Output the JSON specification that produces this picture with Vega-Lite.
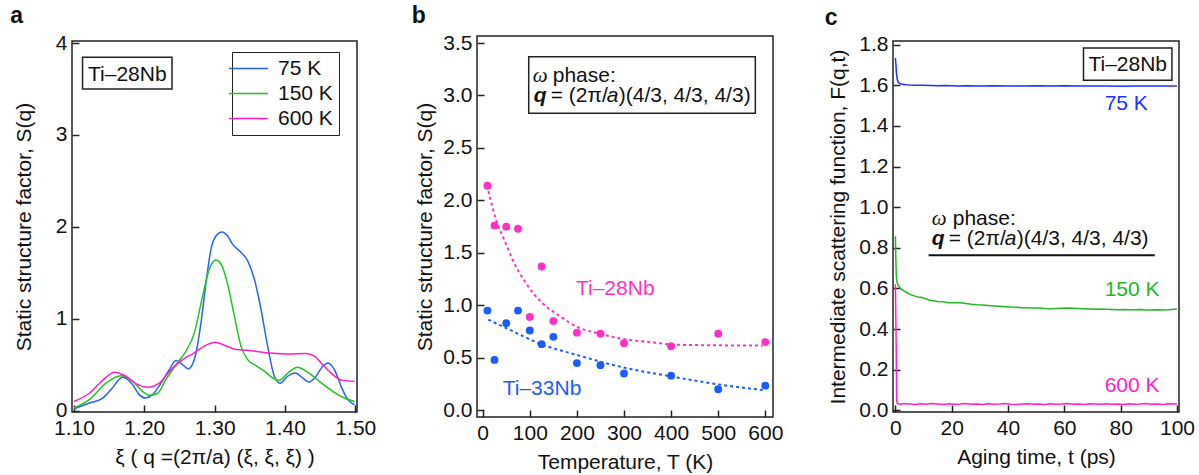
{
  "$schema": "https://vega.github.io/schema/vega-lite/v6.json",
  "background": "white",
  "padding": {"left": 9, "top": 4, "right": 2, "bottom": 5},
  "bounds": "flush",
  "center": true,
  "spacing": 120,
  "datasets": {
    "sq": [
      {"xi": 1.100, "s": 0.020, "T": "75 K"},
      {"xi": 1.1218, "s": 0.084, "T": "75 K"},
      {"xi": 1.1409, "s": 0.138, "T": "75 K"},
      {"xi": 1.1528, "s": 0.230, "T": "75 K"},
      {"xi": 1.1692, "s": 0.364, "T": "75 K"},
      {"xi": 1.1834, "s": 0.284, "T": "75 K"},
      {"xi": 1.1928, "s": 0.175, "T": "75 K"},
      {"xi": 1.2014, "s": 0.138, "T": "75 K"},
      {"xi": 1.2118, "s": 0.175, "T": "75 K"},
      {"xi": 1.2237, "s": 0.300, "T": "75 K"},
      {"xi": 1.2355, "s": 0.447, "T": "75 K"},
      {"xi": 1.2450, "s": 0.545, "T": "75 K"},
      {"xi": 1.2545, "s": 0.500, "T": "75 K"},
      {"xi": 1.2626, "s": 0.455, "T": "75 K"},
      {"xi": 1.2711, "s": 0.556, "T": "75 K"},
      {"xi": 1.2806, "s": 0.956, "T": "75 K"},
      {"xi": 1.2877, "s": 1.393, "T": "75 K"},
      {"xi": 1.2948, "s": 1.756, "T": "75 K"},
      {"xi": 1.3019, "s": 1.900, "T": "75 K"},
      {"xi": 1.3104, "s": 1.945, "T": "75 K"},
      {"xi": 1.3185, "s": 1.900, "T": "75 K"},
      {"xi": 1.3256, "s": 1.810, "T": "75 K"},
      {"xi": 1.3351, "s": 1.740, "T": "75 K"},
      {"xi": 1.3470, "s": 1.630, "T": "75 K"},
      {"xi": 1.3565, "s": 1.430, "T": "75 K"},
      {"xi": 1.3660, "s": 1.100, "T": "75 K"},
      {"xi": 1.3754, "s": 0.700, "T": "75 K"},
      {"xi": 1.3849, "s": 0.375, "T": "75 K"},
      {"xi": 1.3930, "s": 0.300, "T": "75 K"},
      {"xi": 1.4039, "s": 0.375, "T": "75 K"},
      {"xi": 1.4148, "s": 0.410, "T": "75 K"},
      {"xi": 1.4252, "s": 0.356, "T": "75 K"},
      {"xi": 1.4338, "s": 0.313, "T": "75 K"},
      {"xi": 1.4442, "s": 0.375, "T": "75 K"},
      {"xi": 1.4537, "s": 0.484, "T": "75 K"},
      {"xi": 1.4613, "s": 0.520, "T": "75 K"},
      {"xi": 1.4703, "s": 0.447, "T": "75 K"},
      {"xi": 1.4798, "s": 0.265, "T": "75 K"},
      {"xi": 1.4893, "s": 0.120, "T": "75 K"},
      {"xi": 1.4990, "s": 0.065, "T": "75 K"},
      {"xi": 1.100, "s": 0.030, "T": "150 K"},
      {"xi": 1.1218, "s": 0.120, "T": "150 K"},
      {"xi": 1.1455, "s": 0.300, "T": "150 K"},
      {"xi": 1.1668, "s": 0.380, "T": "150 K"},
      {"xi": 1.1834, "s": 0.320, "T": "150 K"},
      {"xi": 1.1976, "s": 0.210, "T": "150 K"},
      {"xi": 1.2071, "s": 0.167, "T": "150 K"},
      {"xi": 1.2190, "s": 0.190, "T": "150 K"},
      {"xi": 1.2308, "s": 0.340, "T": "150 K"},
      {"xi": 1.2450, "s": 0.500, "T": "150 K"},
      {"xi": 1.2592, "s": 0.647, "T": "150 K"},
      {"xi": 1.2711, "s": 0.847, "T": "150 K"},
      {"xi": 1.2829, "s": 1.247, "T": "150 K"},
      {"xi": 1.2924, "s": 1.540, "T": "150 K"},
      {"xi": 1.3019, "s": 1.640, "T": "150 K"},
      {"xi": 1.3104, "s": 1.575, "T": "150 K"},
      {"xi": 1.3185, "s": 1.375, "T": "150 K"},
      {"xi": 1.3280, "s": 1.030, "T": "150 K"},
      {"xi": 1.3375, "s": 0.700, "T": "150 K"},
      {"xi": 1.3470, "s": 0.556, "T": "150 K"},
      {"xi": 1.3588, "s": 0.490, "T": "150 K"},
      {"xi": 1.3707, "s": 0.430, "T": "150 K"},
      {"xi": 1.3825, "s": 0.356, "T": "150 K"},
      {"xi": 1.3920, "s": 0.330, "T": "150 K"},
      {"xi": 1.4039, "s": 0.410, "T": "150 K"},
      {"xi": 1.4181, "s": 0.473, "T": "150 K"},
      {"xi": 1.4300, "s": 0.430, "T": "150 K"},
      {"xi": 1.4489, "s": 0.320, "T": "150 K"},
      {"xi": 1.4679, "s": 0.210, "T": "150 K"},
      {"xi": 1.4845, "s": 0.138, "T": "150 K"},
      {"xi": 1.4990, "s": 0.100, "T": "150 K"},
      {"xi": 1.100, "s": 0.100, "T": "600 K"},
      {"xi": 1.1218, "s": 0.190, "T": "600 K"},
      {"xi": 1.1408, "s": 0.330, "T": "600 K"},
      {"xi": 1.1574, "s": 0.418, "T": "600 K"},
      {"xi": 1.1739, "s": 0.375, "T": "600 K"},
      {"xi": 1.1882, "s": 0.295, "T": "600 K"},
      {"xi": 1.2047, "s": 0.255, "T": "600 K"},
      {"xi": 1.2213, "s": 0.300, "T": "600 K"},
      {"xi": 1.2379, "s": 0.447, "T": "600 K"},
      {"xi": 1.2545, "s": 0.556, "T": "600 K"},
      {"xi": 1.2711, "s": 0.630, "T": "600 K"},
      {"xi": 1.2877, "s": 0.713, "T": "600 K"},
      {"xi": 1.3004, "s": 0.745, "T": "600 K"},
      {"xi": 1.3137, "s": 0.713, "T": "600 K"},
      {"xi": 1.3303, "s": 0.665, "T": "600 K"},
      {"xi": 1.3470, "s": 0.658, "T": "600 K"},
      {"xi": 1.3730, "s": 0.630, "T": "600 K"},
      {"xi": 1.4015, "s": 0.618, "T": "600 K"},
      {"xi": 1.4300, "s": 0.622, "T": "600 K"},
      {"xi": 1.4418, "s": 0.593, "T": "600 K"},
      {"xi": 1.4537, "s": 0.500, "T": "600 K"},
      {"xi": 1.4679, "s": 0.393, "T": "600 K"},
      {"xi": 1.4821, "s": 0.330, "T": "600 K"},
      {"xi": 1.4990, "s": 0.320, "T": "600 K"}
    ],
    "pts": [
      {"temp": 10, "s": 2.14, "alloy": "Ti–28Nb"},
      {"temp": 25, "s": 1.76, "alloy": "Ti–28Nb"},
      {"temp": 50, "s": 1.75, "alloy": "Ti–28Nb"},
      {"temp": 75, "s": 1.73, "alloy": "Ti–28Nb"},
      {"temp": 100, "s": 0.89, "alloy": "Ti–28Nb"},
      {"temp": 125, "s": 1.37, "alloy": "Ti–28Nb"},
      {"temp": 150, "s": 0.85, "alloy": "Ti–28Nb"},
      {"temp": 200, "s": 0.74, "alloy": "Ti–28Nb"},
      {"temp": 250, "s": 0.73, "alloy": "Ti–28Nb"},
      {"temp": 300, "s": 0.64, "alloy": "Ti–28Nb"},
      {"temp": 400, "s": 0.61, "alloy": "Ti–28Nb"},
      {"temp": 500, "s": 0.73, "alloy": "Ti–28Nb"},
      {"temp": 600, "s": 0.65, "alloy": "Ti–28Nb"},
      {"temp": 10, "s": 0.95, "alloy": "Ti–33Nb"},
      {"temp": 25, "s": 0.48, "alloy": "Ti–33Nb"},
      {"temp": 50, "s": 0.83, "alloy": "Ti–33Nb"},
      {"temp": 75, "s": 0.95, "alloy": "Ti–33Nb"},
      {"temp": 100, "s": 0.76, "alloy": "Ti–33Nb"},
      {"temp": 125, "s": 0.63, "alloy": "Ti–33Nb"},
      {"temp": 150, "s": 0.70, "alloy": "Ti–33Nb"},
      {"temp": 200, "s": 0.45, "alloy": "Ti–33Nb"},
      {"temp": 250, "s": 0.43, "alloy": "Ti–33Nb"},
      {"temp": 300, "s": 0.35, "alloy": "Ti–33Nb"},
      {"temp": 400, "s": 0.33, "alloy": "Ti–33Nb"},
      {"temp": 500, "s": 0.20, "alloy": "Ti–33Nb"},
      {"temp": 600, "s": 0.235, "alloy": "Ti–33Nb"}
    ],
    "fit": [
      {"temp": 12, "s": 2.09, "alloy": "Ti–28Nb"},
      {"temp": 28, "s": 1.82, "alloy": "Ti–28Nb"},
      {"temp": 49, "s": 1.59, "alloy": "Ti–28Nb"},
      {"temp": 64, "s": 1.43, "alloy": "Ti–28Nb"},
      {"temp": 92, "s": 1.21, "alloy": "Ti–28Nb"},
      {"temp": 127, "s": 1.02, "alloy": "Ti–28Nb"},
      {"temp": 163, "s": 0.90, "alloy": "Ti–28Nb"},
      {"temp": 198, "s": 0.80, "alloy": "Ti–28Nb"},
      {"temp": 248, "s": 0.73, "alloy": "Ti–28Nb"},
      {"temp": 297, "s": 0.68, "alloy": "Ti–28Nb"},
      {"temp": 354, "s": 0.65, "alloy": "Ti–28Nb"},
      {"temp": 410, "s": 0.625, "alloy": "Ti–28Nb"},
      {"temp": 481, "s": 0.62, "alloy": "Ti–28Nb"},
      {"temp": 594, "s": 0.616, "alloy": "Ti–28Nb"},
      {"temp": 12, "s": 0.864, "alloy": "Ti–33Nb"},
      {"temp": 56, "s": 0.77, "alloy": "Ti–33Nb"},
      {"temp": 127, "s": 0.625, "alloy": "Ti–33Nb"},
      {"temp": 198, "s": 0.53, "alloy": "Ti–33Nb"},
      {"temp": 297, "s": 0.41, "alloy": "Ti–33Nb"},
      {"temp": 403, "s": 0.32, "alloy": "Ti–33Nb"},
      {"temp": 502, "s": 0.245, "alloy": "Ti–33Nb"},
      {"temp": 601, "s": 0.19, "alloy": "Ti–33Nb"}
    ],
    "fqt": [
      {"t": 0, "f": 1.735, "T": "75 K"}, {"t": 0.2, "f": 1.70, "T": "75 K"}, {"t": 0.4, "f": 1.655, "T": "75 K"}, {"t": 0.7, "f": 1.627, "T": "75 K"}, {"t": 1, "f": 1.615, "T": "75 K"}, {"t": 1.5, "f": 1.609, "T": "75 K"}, {"t": 2, "f": 1.606, "T": "75 K"}, {"t": 3, "f": 1.604, "T": "75 K"}, {"t": 4, "f": 1.602, "T": "75 K"}, {"t": 5, "f": 1.601, "T": "75 K"}, {"t": 7, "f": 1.600, "T": "75 K"}, {"t": 10, "f": 1.600, "T": "75 K"}, {"t": 12.5, "f": 1.599, "T": "75 K"}, {"t": 15, "f": 1.598, "T": "75 K"}, {"t": 17.5, "f": 1.599, "T": "75 K"}, {"t": 20, "f": 1.598, "T": "75 K"}, {"t": 22.5, "f": 1.597, "T": "75 K"}, {"t": 25, "f": 1.598, "T": "75 K"}, {"t": 30, "f": 1.597, "T": "75 K"}, {"t": 35, "f": 1.598, "T": "75 K"}, {"t": 40, "f": 1.597, "T": "75 K"}, {"t": 45, "f": 1.597, "T": "75 K"}, {"t": 50, "f": 1.598, "T": "75 K"}, {"t": 55, "f": 1.597, "T": "75 K"}, {"t": 60, "f": 1.598, "T": "75 K"}, {"t": 65, "f": 1.597, "T": "75 K"}, {"t": 70, "f": 1.596, "T": "75 K"}, {"t": 75, "f": 1.596, "T": "75 K"}, {"t": 80, "f": 1.595, "T": "75 K"}, {"t": 85, "f": 1.596, "T": "75 K"}, {"t": 90, "f": 1.597, "T": "75 K"}, {"t": 95, "f": 1.596, "T": "75 K"}, {"t": 100, "f": 1.597, "T": "75 K"},
      {"t": 0, "f": 0.857, "T": "150 K"}, {"t": 0.15, "f": 0.75, "T": "150 K"}, {"t": 0.3, "f": 0.67, "T": "150 K"}, {"t": 0.5, "f": 0.635, "T": "150 K"}, {"t": 1, "f": 0.615, "T": "150 K"}, {"t": 1.5, "f": 0.605, "T": "150 K"}, {"t": 2, "f": 0.598, "T": "150 K"}, {"t": 3, "f": 0.588, "T": "150 K"}, {"t": 4, "f": 0.580, "T": "150 K"}, {"t": 5, "f": 0.572, "T": "150 K"}, {"t": 6, "f": 0.566, "T": "150 K"}, {"t": 7, "f": 0.562, "T": "150 K"}, {"t": 8, "f": 0.558, "T": "150 K"}, {"t": 9, "f": 0.556, "T": "150 K"}, {"t": 10, "f": 0.553, "T": "150 K"}, {"t": 11, "f": 0.548, "T": "150 K"}, {"t": 12, "f": 0.543, "T": "150 K"}, {"t": 13, "f": 0.540, "T": "150 K"}, {"t": 14, "f": 0.538, "T": "150 K"}, {"t": 15, "f": 0.536, "T": "150 K"}, {"t": 17, "f": 0.534, "T": "150 K"}, {"t": 19, "f": 0.530, "T": "150 K"}, {"t": 21, "f": 0.531, "T": "150 K"}, {"t": 23, "f": 0.529, "T": "150 K"}, {"t": 25, "f": 0.526, "T": "150 K"}, {"t": 27, "f": 0.522, "T": "150 K"}, {"t": 29, "f": 0.519, "T": "150 K"}, {"t": 31, "f": 0.518, "T": "150 K"}, {"t": 33, "f": 0.516, "T": "150 K"}, {"t": 35, "f": 0.514, "T": "150 K"}, {"t": 37, "f": 0.512, "T": "150 K"}, {"t": 39, "f": 0.510, "T": "150 K"}, {"t": 41, "f": 0.508, "T": "150 K"}, {"t": 43, "f": 0.507, "T": "150 K"}, {"t": 45, "f": 0.505, "T": "150 K"}, {"t": 47, "f": 0.505, "T": "150 K"}, {"t": 49, "f": 0.504, "T": "150 K"}, {"t": 51, "f": 0.503, "T": "150 K"}, {"t": 53, "f": 0.501, "T": "150 K"}, {"t": 55, "f": 0.500, "T": "150 K"}, {"t": 57, "f": 0.501, "T": "150 K"}, {"t": 59, "f": 0.502, "T": "150 K"}, {"t": 61, "f": 0.503, "T": "150 K"}, {"t": 63, "f": 0.502, "T": "150 K"}, {"t": 65, "f": 0.501, "T": "150 K"}, {"t": 67, "f": 0.500, "T": "150 K"}, {"t": 69, "f": 0.499, "T": "150 K"}, {"t": 71, "f": 0.498, "T": "150 K"}, {"t": 73, "f": 0.499, "T": "150 K"}, {"t": 75, "f": 0.497, "T": "150 K"}, {"t": 77, "f": 0.496, "T": "150 K"}, {"t": 79, "f": 0.495, "T": "150 K"}, {"t": 81, "f": 0.496, "T": "150 K"}, {"t": 83, "f": 0.495, "T": "150 K"}, {"t": 85, "f": 0.495, "T": "150 K"}, {"t": 87, "f": 0.496, "T": "150 K"}, {"t": 89, "f": 0.494, "T": "150 K"}, {"t": 91, "f": 0.494, "T": "150 K"}, {"t": 93, "f": 0.495, "T": "150 K"}, {"t": 95, "f": 0.494, "T": "150 K"}, {"t": 97, "f": 0.495, "T": "150 K"}, {"t": 99, "f": 0.498, "T": "150 K"}, {"t": 100, "f": 0.499, "T": "150 K"},
      {"t": 0, "f": 0.62, "T": "600 K"}, {"t": 0.25, "f": 0.35, "T": "600 K"}, {"t": 0.45, "f": 0.05, "T": "600 K"}, {"t": 0.7, "f": 0.034, "T": "600 K"}, {"t": 1, "f": 0.032, "T": "600 K"}, {"t": 2, "f": 0.030, "T": "600 K"}, {"t": 3, "f": 0.033, "T": "600 K"}, {"t": 5, "f": 0.031, "T": "600 K"}, {"t": 7, "f": 0.029, "T": "600 K"}, {"t": 9, "f": 0.032, "T": "600 K"}, {"t": 11, "f": 0.030, "T": "600 K"}, {"t": 13, "f": 0.033, "T": "600 K"}, {"t": 15, "f": 0.031, "T": "600 K"}, {"t": 17, "f": 0.029, "T": "600 K"}, {"t": 19, "f": 0.032, "T": "600 K"}, {"t": 21, "f": 0.030, "T": "600 K"}, {"t": 23, "f": 0.031, "T": "600 K"}, {"t": 25, "f": 0.033, "T": "600 K"}, {"t": 27, "f": 0.030, "T": "600 K"}, {"t": 29, "f": 0.031, "T": "600 K"}, {"t": 31, "f": 0.029, "T": "600 K"}, {"t": 33, "f": 0.032, "T": "600 K"}, {"t": 35, "f": 0.030, "T": "600 K"}, {"t": 37, "f": 0.031, "T": "600 K"}, {"t": 39, "f": 0.033, "T": "600 K"}, {"t": 41, "f": 0.030, "T": "600 K"}, {"t": 43, "f": 0.029, "T": "600 K"}, {"t": 45, "f": 0.031, "T": "600 K"}, {"t": 47, "f": 0.032, "T": "600 K"}, {"t": 49, "f": 0.030, "T": "600 K"}, {"t": 51, "f": 0.031, "T": "600 K"}, {"t": 53, "f": 0.029, "T": "600 K"}, {"t": 55, "f": 0.032, "T": "600 K"}, {"t": 57, "f": 0.030, "T": "600 K"}, {"t": 59, "f": 0.031, "T": "600 K"}, {"t": 61, "f": 0.033, "T": "600 K"}, {"t": 63, "f": 0.030, "T": "600 K"}, {"t": 65, "f": 0.031, "T": "600 K"}, {"t": 67, "f": 0.029, "T": "600 K"}, {"t": 69, "f": 0.032, "T": "600 K"}, {"t": 71, "f": 0.031, "T": "600 K"}, {"t": 73, "f": 0.030, "T": "600 K"}, {"t": 75, "f": 0.032, "T": "600 K"}, {"t": 77, "f": 0.030, "T": "600 K"}, {"t": 79, "f": 0.031, "T": "600 K"}, {"t": 81, "f": 0.029, "T": "600 K"}, {"t": 83, "f": 0.032, "T": "600 K"}, {"t": 85, "f": 0.030, "T": "600 K"}, {"t": 87, "f": 0.031, "T": "600 K"}, {"t": 89, "f": 0.033, "T": "600 K"}, {"t": 91, "f": 0.030, "T": "600 K"}, {"t": 93, "f": 0.031, "T": "600 K"}, {"t": 95, "f": 0.029, "T": "600 K"}, {"t": 97, "f": 0.032, "T": "600 K"}, {"t": 99, "f": 0.031, "T": "600 K"}, {"t": 100, "f": 0.031, "T": "600 K"}
    ],
    "one": [{}]
  },
  "hconcat": [
    {
      "width": 285,
      "height": 371,
      "title": {"text": "a", "dx": -3},
      "layer": [
        {
          "data": {"name": "sq"},
          "mark": {"type": "line", "interpolate": "monotone", "strokeWidth": 1.5},
          "encoding": {
            "x": {"field": "xi", "type": "quantitative",
              "scale": {"domain": [1.0972, 1.5024], "nice": false, "zero": false},
              "axis": {"values": [1.10, 1.15, 1.20, 1.25, 1.30, 1.35, 1.40, 1.45, 1.50],
                "labelExpr": "round(datum.value*100) % 10 == 0 ? format(datum.value, '.2f') : ''",
                "title": "ξ ( q =(2π/a) (ξ, ξ, ξ) )"}},
            "y": {"field": "s", "type": "quantitative",
              "scale": {"domain": [-0.014, 4.022], "nice": false, "zero": false},
              "axis": {"values": [0, 1, 2, 3, 4], "format": "d", "title": "Static structure factor, S(q)", "titlePadding": 21}},
            "color": {"field": "T", "type": "nominal",
              "scale": {"domain": ["75 K", "150 K", "600 K"], "range": ["#2563f5", "#22c322", "#ff1fc8"]},
              "legend": {"title": null, "orient": "none", "legendX": 160, "legendY": 16,
                "strokeColor": "#222", "padding": 6, "symbolType": "M-9.75,0H9.75", "symbolSize": 16,
                "symbolStrokeWidth": 1.5, "labelFontSize": 21, "labelOffset": 19, "rowPadding": 3,
                "labelColor": "#111", "labelFont": "Liberation Sans"}}
          }
        },
        {
          "data": {"name": "one"},
          "mark": {"type": "rect", "fill": "transparent", "stroke": "#222", "strokeWidth": 1.5},
          "encoding": {"x": {"datum": 1.1122, "type": "quantitative"}, "x2": {"datum": 1.2394},
            "y": {"datum": 3.844, "type": "quantitative"}, "y2": {"datum": 3.499}}
        },
        {
          "data": {"name": "one"},
          "mark": {"type": "text", "text": "Ti–28Nb", "align": "center", "baseline": "alphabetic", "color": "#111"},
          "encoding": {"x": {"datum": 1.1758, "type": "quantitative"}, "y": {"datum": 3.592, "type": "quantitative"}}
        }
      ]
    },
    {
      "width": 296,
      "height": 381,
      "title": {"text": "b", "dx": -3},
      "layer": [
        {
          "data": {"name": "fit"},
          "transform": [{"filter": "datum.alloy == 'Ti–28Nb'"}],
          "mark": {"type": "line", "interpolate": "monotone", "strokeWidth": 2, "strokeDash": [3, 3], "color": "#ff2fc8"},
          "encoding": {
            "x": {"field": "temp", "type": "quantitative",
              "scale": {"domain": [-12.1, 616.3], "nice": false, "zero": false},
              "axis": {"values": [0, 100, 200, 300, 400, 500, 600], "title": "Temperature, T (K)"}},
            "y": {"field": "s", "type": "quantitative",
              "scale": {"domain": [-0.064, 3.567], "nice": false, "zero": false},
              "axis": {"values": [0, 0.5, 1, 1.5, 2, 2.5, 3, 3.5], "format": ".1f", "title": "Static structure factor, S(q)", "titlePadding": 7}}
          }
        },
        {
          "data": {"name": "fit"},
          "transform": [{"filter": "datum.alloy == 'Ti–33Nb'"}],
          "mark": {"type": "line", "interpolate": "monotone", "strokeWidth": 2, "strokeDash": [3, 3], "color": "#1a5ef5"},
          "encoding": {"x": {"field": "temp", "type": "quantitative"}, "y": {"field": "s", "type": "quantitative"}}
        },
        {
          "data": {"name": "pts"},
          "transform": [{"filter": "datum.alloy == 'Ti–28Nb'"}],
          "mark": {"type": "circle", "size": 62, "opacity": 1, "color": "#ff2fc8"},
          "encoding": {"x": {"field": "temp", "type": "quantitative"}, "y": {"field": "s", "type": "quantitative"}}
        },
        {
          "data": {"name": "pts"},
          "transform": [{"filter": "datum.alloy == 'Ti–33Nb'"}],
          "mark": {"type": "circle", "size": 62, "opacity": 1, "color": "#1a5ef5"},
          "encoding": {"x": {"field": "temp", "type": "quantitative"}, "y": {"field": "s", "type": "quantitative"}}
        },
        {
          "data": {"name": "one"},
          "mark": {"type": "text", "text": "Ti–28Nb", "align": "left", "baseline": "alphabetic", "color": "#ff2fc8"},
          "encoding": {"x": {"datum": 198, "type": "quantitative"}, "y": {"datum": 1.102, "type": "quantitative"}}
        },
        {
          "data": {"name": "one"},
          "mark": {"type": "text", "text": "Ti–33Nb", "align": "left", "baseline": "alphabetic", "color": "#1a5ef5"},
          "encoding": {"x": {"datum": 42.5, "type": "quantitative"}, "y": {"datum": 0.149, "type": "quantitative"}}
        },
        {
          "data": {"name": "one"},
          "mark": {"type": "rect", "fill": "transparent", "stroke": "#222", "strokeWidth": 1.5},
          "encoding": {"x": {"datum": 97.7, "type": "quantitative"}, "x2": {"datum": 578.8},
            "y": {"datum": 3.370, "type": "quantitative"}, "y2": {"datum": 2.830}}
        },
        {
          "data": {"name": "one"},
          "mark": {"type": "text", "text": "ω", "align": "left", "baseline": "alphabetic", "font": "Liberation Serif", "fontStyle": "italic", "color": "#111"},
          "encoding": {"x": {"datum": 106.2, "type": "quantitative"}, "y": {"datum": 3.131, "type": "quantitative"}}
        },
        {
          "data": {"name": "one"},
          "mark": {"type": "text", "text": "phase:", "align": "left", "baseline": "alphabetic", "dx": 20, "color": "#111"},
          "encoding": {"x": {"datum": 106.2, "type": "quantitative"}, "y": {"datum": 3.131, "type": "quantitative"}}
        },
        {
          "data": {"name": "one"},
          "mark": {"type": "text", "text": "q", "align": "left", "baseline": "alphabetic", "fontWeight": "bold", "fontStyle": "italic", "dx": 1, "color": "#111"},
          "encoding": {"x": {"datum": 106.2, "type": "quantitative"}, "y": {"datum": 2.941, "type": "quantitative"}}
        },
        {
          "data": {"name": "one"},
          "mark": {"type": "text", "text": "= (2π/", "align": "left", "baseline": "alphabetic", "dx": 18, "color": "#111"},
          "encoding": {"x": {"datum": 106.2, "type": "quantitative"}, "y": {"datum": 2.941, "type": "quantitative"}}
        },
        {
          "data": {"name": "one"},
          "mark": {"type": "text", "text": "a", "align": "left", "baseline": "alphabetic", "fontStyle": "italic", "dx": 74, "color": "#111"},
          "encoding": {"x": {"datum": 106.2, "type": "quantitative"}, "y": {"datum": 2.941, "type": "quantitative"}}
        },
        {
          "data": {"name": "one"},
          "mark": {"type": "text", "text": ")(4/3, 4/3, 4/3)", "align": "left", "baseline": "alphabetic", "dx": 86, "color": "#111"},
          "encoding": {"x": {"datum": 106.2, "type": "quantitative"}, "y": {"datum": 2.941, "type": "quantitative"}}
        }
      ]
    },
    {
      "width": 286,
      "height": 371,
      "title": {"text": "c", "dx": -3},
      "layer": [
        {
          "data": {"name": "fqt"},
          "transform": [{"filter": "datum.T == '75 K'"}],
          "mark": {"type": "line", "strokeWidth": 1.5, "color": "#2030ff"},
          "encoding": {
            "x": {"field": "t", "type": "quantitative",
              "scale": {"domain": [-0.85, 100.71], "nice": false, "zero": false},
              "axis": {"values": [0, 20, 40, 60, 80, 100], "title": "Aging time, t (ps)"}},
            "y": {"field": "f", "type": "quantitative",
              "scale": {"domain": [-0.0084, 1.818], "nice": false, "zero": false},
              "axis": {"values": [0, 0.2, 0.4, 0.6, 0.8, 1.0, 1.2, 1.4, 1.6, 1.8], "format": ".1f", "title": "Intermediate scattering function, F(q,t)", "titlePadding": 10}}
          }
        },
        {
          "data": {"name": "fqt"},
          "transform": [{"filter": "datum.T == '150 K'"}],
          "mark": {"type": "line", "strokeWidth": 1.5, "color": "#22b822"},
          "encoding": {"x": {"field": "t", "type": "quantitative"}, "y": {"field": "f", "type": "quantitative"}}
        },
        {
          "data": {"name": "fqt"},
          "transform": [{"filter": "datum.T == '600 K'"}],
          "mark": {"type": "line", "strokeWidth": 1.5, "color": "#ff1fcc"},
          "encoding": {"x": {"field": "t", "type": "quantitative"}, "y": {"field": "f", "type": "quantitative"}}
        },
        {
          "data": {"name": "one"},
          "mark": {"type": "text", "text": "75 K", "align": "left", "baseline": "alphabetic", "color": "#2030ff"},
          "encoding": {"x": {"datum": 74.3, "type": "quantitative"}, "y": {"datum": 1.476, "type": "quantitative"}}
        },
        {
          "data": {"name": "one"},
          "mark": {"type": "text", "text": "150 K", "align": "left", "baseline": "alphabetic", "color": "#22b822"},
          "encoding": {"x": {"datum": 74.3, "type": "quantitative"}, "y": {"datum": 0.565, "type": "quantitative"}}
        },
        {
          "data": {"name": "one"},
          "mark": {"type": "text", "text": "600 K", "align": "left", "baseline": "alphabetic", "color": "#ff1fcc"},
          "encoding": {"x": {"datum": 74.3, "type": "quantitative"}, "y": {"datum": 0.090, "type": "quantitative"}}
        },
        {
          "data": {"name": "one"},
          "mark": {"type": "rect", "fill": "transparent", "stroke": "#222", "strokeWidth": 1.5},
          "encoding": {"x": {"datum": 66.8, "type": "quantitative"}, "x2": {"datum": 98.2},
            "y": {"datum": 1.784, "type": "quantitative"}, "y2": {"datum": 1.625}}
        },
        {
          "data": {"name": "one"},
          "mark": {"type": "text", "text": "Ti–28Nb", "align": "center", "baseline": "alphabetic", "color": "#111"},
          "encoding": {"x": {"datum": 82.5, "type": "quantitative"}, "y": {"datum": 1.668, "type": "quantitative"}}
        },
        {
          "data": {"name": "one"},
          "mark": {"type": "rule", "stroke": "#111", "strokeWidth": 2},
          "encoding": {"x": {"datum": 11.8, "type": "quantitative"}, "x2": {"datum": 92.1},
            "y": {"datum": 0.763, "type": "quantitative"}}
        },
        {
          "data": {"name": "one"},
          "mark": {"type": "text", "text": "ω", "align": "left", "baseline": "alphabetic", "font": "Liberation Serif", "fontStyle": "italic", "color": "#111"},
          "encoding": {"x": {"datum": 12.9, "type": "quantitative"}, "y": {"datum": 0.914, "type": "quantitative"}}
        },
        {
          "data": {"name": "one"},
          "mark": {"type": "text", "text": "phase:", "align": "left", "baseline": "alphabetic", "dx": 21, "color": "#111"},
          "encoding": {"x": {"datum": 12.9, "type": "quantitative"}, "y": {"datum": 0.914, "type": "quantitative"}}
        },
        {
          "data": {"name": "one"},
          "mark": {"type": "text", "text": "q", "align": "left", "baseline": "alphabetic", "fontWeight": "bold", "fontStyle": "italic", "color": "#111"},
          "encoding": {"x": {"datum": 12.9, "type": "quantitative"}, "y": {"datum": 0.815, "type": "quantitative"}}
        },
        {
          "data": {"name": "one"},
          "mark": {"type": "text", "text": "= (2π/", "align": "left", "baseline": "alphabetic", "dx": 17, "color": "#111"},
          "encoding": {"x": {"datum": 12.9, "type": "quantitative"}, "y": {"datum": 0.815, "type": "quantitative"}}
        },
        {
          "data": {"name": "one"},
          "mark": {"type": "text", "text": "a", "align": "left", "baseline": "alphabetic", "fontStyle": "italic", "dx": 73, "color": "#111"},
          "encoding": {"x": {"datum": 12.9, "type": "quantitative"}, "y": {"datum": 0.815, "type": "quantitative"}}
        },
        {
          "data": {"name": "one"},
          "mark": {"type": "text", "text": ")(4/3, 4/3, 4/3)", "align": "left", "baseline": "alphabetic", "dx": 85, "color": "#111"},
          "encoding": {"x": {"datum": 12.9, "type": "quantitative"}, "y": {"datum": 0.815, "type": "quantitative"}}
        }
      ]
    }
  ],
  "config": {
    "font": "Liberation Sans",
    "view": {"stroke": "#222", "strokeWidth": 1.5},
    "axis": {"labelFontSize": 21, "titleFontSize": 21, "titleFontWeight": "normal", "labelColor": "#111", "titleColor": "#111",
      "tickColor": "#222", "tickWidth": 1.5, "tickSize": -7, "labelPadding": 12, "domain": false, "grid": false,
      "labelFlush": false, "labelOverlap": false, "labelFont": "Liberation Sans", "titleFont": "Liberation Sans", "titlePadding": 8},
    "title": {"fontSize": 23, "fontWeight": "bold", "anchor": "start", "frame": "bounds", "color": "#111", "font": "Liberation Sans", "offset": 4},
    "text": {"font": "Liberation Sans", "fontSize": 21}
  }
}
